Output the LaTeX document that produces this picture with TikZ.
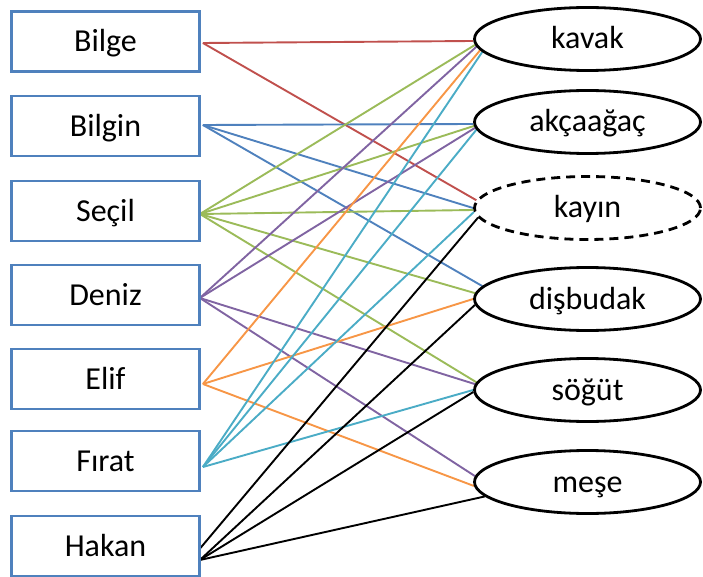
\documentclass[tikz,border=0pt]{standalone}
\usepackage{fontspec}
\setmainfont{Carlito}
\usetikzlibrary{shapes.geometric,backgrounds}

\definecolor{boxblue}{HTML}{4F81BD}
\definecolor{lnred}{HTML}{C0504D}
\definecolor{lnblue}{HTML}{4F81BD}
\definecolor{lngreen}{HTML}{9BBB59}
\definecolor{lnpurple}{HTML}{8064A2}
\definecolor{lnorange}{HTML}{F79646}
\definecolor{lncyan}{HTML}{4BACC6}

\begin{document}
\begin{tikzpicture}[x=1pt,y=-1pt,
  person/.style={draw=boxblue, line width=2.8pt, fill=white,
    minimum width=188pt, minimum height=60pt, inner sep=0pt,
    text height=28pt, text depth=7pt,
    font=\fontsize{32}{38}\selectfont},
  tree/.style={ellipse, draw=black, line width=2.8pt, fill=white,
    minimum width=226pt, minimum height=63pt, inner sep=0pt,
    text height=27pt, text depth=7pt,
    font=\fontsize{32}{38}\selectfont},
  guess/.style={tree, dash pattern=on 9pt off 6pt},
  link/.style={line width=1.9pt}]

\useasboundingbox (0,0) rectangle (703,577);

% people
\node[person] (bilge)  at (105.5, 41.5) {Bilge};
\node[person] (bilgin) at (105.5,126)   {Bilgin};
\node[person] (secil)  at (105.5,211)   {Seçil};
\node[person] (deniz)  at (105.5,295)   {Deniz};
\node[person] (elif)   at (105.5,379)   {Elif};
\node[person] (firat)  at (105.5,461)   {Fırat};
\node[person] (hakan)  at (105.5,546)   {Hakan};

% trees
\node[tree]  (kavak)    at (587.5, 39) {kavak};
\node[tree]  (akcaagac) at (587.5,122) {akçaağaç};
\node[guess] (kayin)    at (587.5,208) {kayın};
\node[tree]  (disbudak) at (587.5,299) {dişbudak};
\node[tree]  (sogut)    at (587.5,390) {söğüt};
\node[tree]  (mese)     at (587.5,482) {meşe};

% where each fan of lines leaves its box
\coordinate (s-bilge)  at ([shift={(2,1.5)}]bilge.east);
\coordinate (s-bilgin) at ([shift={(2,-1)}]bilgin.east);
\coordinate (s-secil)  at ([shift={(-1,3)}]secil.east);
\coordinate (s-deniz)  at ([shift={(-1,3)}]deniz.east);
\coordinate (s-elif)   at ([shift={(2,5)}]elif.east);
\coordinate (s-firat)  at ([shift={(2,6)}]firat.east);
\coordinate (s-hakan)  at ([shift={(-1,14)}]hakan.east);
\coordinate (s-hakan2) at ([shift={(-3,5)}]hakan.east);

\begin{scope}[on background layer]
  % Bilge
  \draw[link, lnred] (s-bilge) -- (kavak.181.5);
  \draw[link, lnred] (s-bilge) -- (kayin.176.5);
  % Bilgin
  \draw[link, lnblue] (s-bilgin) -- (akcaagac.181);
  \draw[link, lnblue] (s-bilgin) -- (kayin.180);
  \draw[link, lnblue] (s-bilgin) -- (disbudak.173);
  % Seçil
  \draw[link, lngreen] (s-secil) -- (kavak.183.6);
  \draw[link, lngreen] (s-secil) -- (akcaagac.182.6);
  \draw[link, lngreen] (s-secil) -- (kayin.181.5);
  \draw[link, lngreen] (s-secil) -- (disbudak.177);
  \draw[link, lngreen] (s-secil) -- (sogut.176);
  % Deniz
  \draw[link, lnpurple] (s-deniz) -- (kavak.184.6);
  \draw[link, lnpurple] (s-deniz) -- (akcaagac.183.6);
  \draw[link, lnpurple] (s-deniz) -- (sogut.177.5);
  \draw[link, lnpurple] (s-deniz) -- (mese.177.5);
  % Elif
  \draw[link, lnorange] (s-elif) -- (kavak.186.2);
  \draw[link, lnorange] (s-elif) -- (disbudak.180);
  \draw[link, lnorange] (s-elif) -- (mese.182.6);
  % Fırat
  \draw[link, lncyan] (s-firat) -- (kavak.187.1);
  \draw[link, lncyan] (s-firat) -- (akcaagac.184.2);
  \draw[link, lncyan] (s-firat) -- (kayin.182.5);
  \draw[link, lncyan] (s-firat) -- (sogut.180);
  % Hakan
  \draw[link, black] (s-hakan2) -- (kayin.185);
  \draw[link, black] (s-hakan) -- (disbudak.183);
  \draw[link, black] (s-hakan) -- (sogut.181.5);
  \draw[link, black] (s-hakan) -- (mese.188.2);
\end{scope}

\end{tikzpicture}
\end{document}
